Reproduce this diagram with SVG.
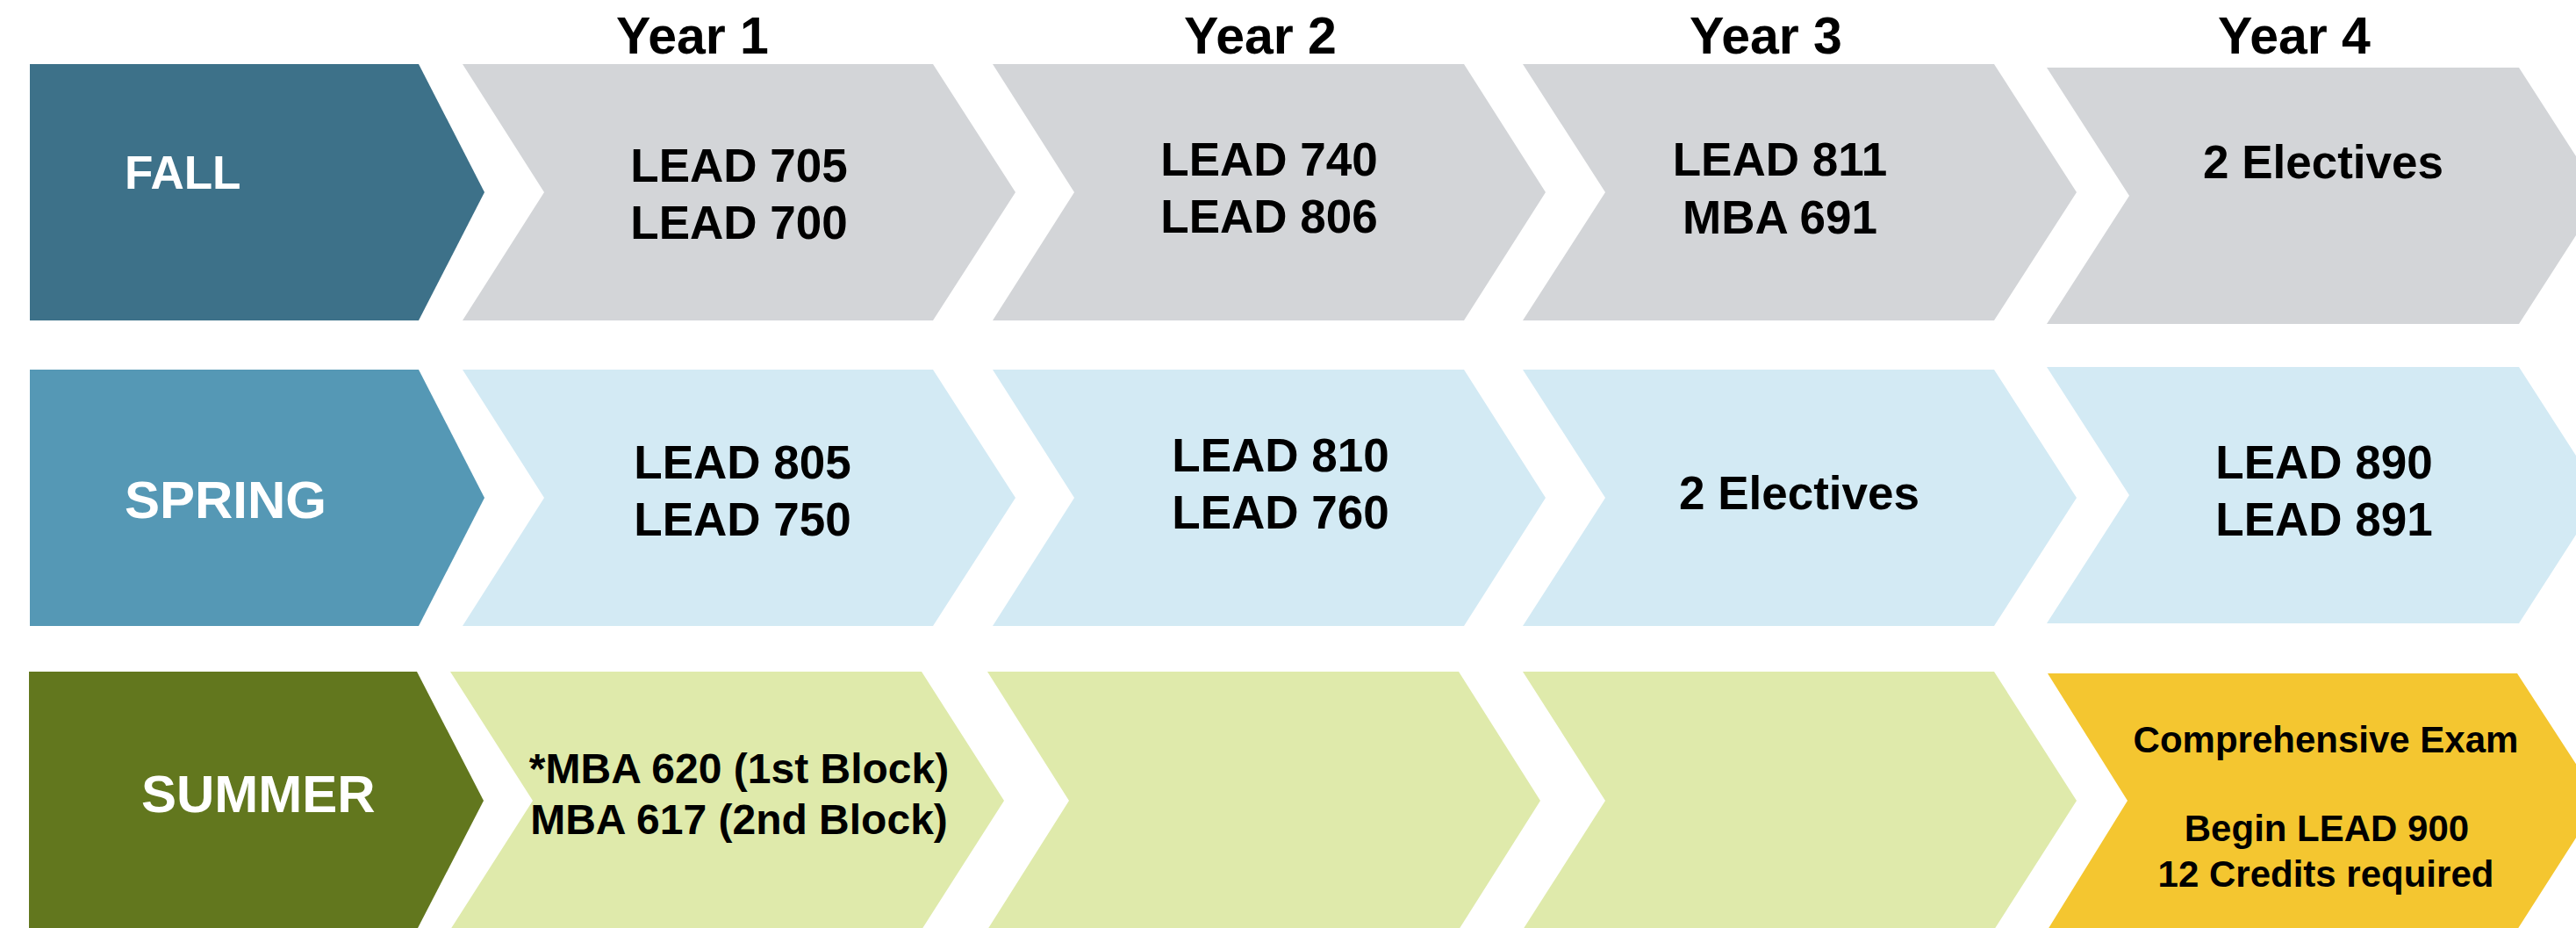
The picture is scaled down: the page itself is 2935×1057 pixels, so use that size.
<svg xmlns="http://www.w3.org/2000/svg" width="2935" height="1057" viewBox="0 0 2935 1057">
<style>
text{font-family:"Liberation Sans",Arial,sans-serif;font-weight:bold}
.yr{font-size:59px;fill:#000;text-anchor:middle}
.lbl{fill:#fff}
.c{font-size:53px;fill:#000;text-anchor:middle}
.s{font-size:48px;fill:#000;text-anchor:middle}
.e{font-size:42px;fill:#000;text-anchor:middle}
.fall{fill:#3D7189}
.spring{fill:#5598B5}
.summer{fill:#62771E}
.gray{fill:#D3D5D8}
.blue{fill:#D3EAF4}
.green{fill:#DFEAAB}
.yellow{fill:#F4C630}
</style>
<rect width="2935" height="1057" fill="#fff"/>
<g id="headers">
<text class="yr" x="789" y="61">Year 1</text>
<text class="yr" x="1436" y="61">Year 2</text>
<text class="yr" x="2012" y="61">Year 3</text>
<text class="yr" x="2614" y="61">Year 4</text>
</g>
<g id="fall-label"><polygon class="fall" points="34,73 477,73 552,219 477,365 34,365"/><text class="lbl" x="142" y="215" font-size="53">FALL</text></g>
<g id="fall-y1"><polygon class="gray" points="527,73 1063,73 1157,219 1063,365 527,365 620,219"/><text class="c" x="842" y="207">LEAD 705</text><text class="c" x="842" y="272">LEAD 700</text></g>
<g id="fall-y2"><polygon class="gray" points="1131,73 1668,73 1761,219 1668,365 1131,365 1224,219"/><text class="c" x="1446" y="200">LEAD 740</text><text class="c" x="1446" y="265">LEAD 806</text></g>
<g id="fall-y3"><polygon class="gray" points="1735,73 2272,73 2366,219 2272,365 1735,365 1829,219"/><text class="c" x="2028" y="200">LEAD 811</text><text class="c" x="2028" y="266">MBA 691</text></g>
<g id="fall-y4"><polygon class="gray" points="2332,77 2870,77 2964,223 2870,369 2332,369 2426,223"/><text class="c" x="2647" y="203">2 Electives</text></g>
<g id="spring-label"><polygon class="spring" points="34,421 477,421 552,567 477,713 34,713"/><text class="lbl" x="142" y="590" font-size="60">SPRING</text></g>
<g id="spring-y1"><polygon class="blue" points="527,421 1063,421 1157,567 1063,713 527,713 620,567"/><text class="c" x="846" y="545">LEAD 805</text><text class="c" x="846" y="610">LEAD 750</text></g>
<g id="spring-y2"><polygon class="blue" points="1131,421 1668,421 1761,567 1668,713 1131,713 1224,567"/><text class="c" x="1459" y="537">LEAD 810</text><text class="c" x="1459" y="602">LEAD 760</text></g>
<g id="spring-y3"><polygon class="blue" points="1735,421 2272,421 2366,567 2272,713 1735,713 1829,567"/><text class="c" x="2050" y="580">2 Electives</text></g>
<g id="spring-y4"><polygon class="blue" points="2332,418 2870,418 2964,564 2870,710 2332,710 2426,564"/><text class="c" x="2648" y="545">LEAD 890</text><text class="c" x="2648" y="610">LEAD 891</text></g>
<g id="summer-label"><polygon class="summer" points="33,765 475,765 551,912 475,1059 33,1059"/><text class="lbl" x="161" y="925" font-size="60">SUMMER</text></g>
<g id="summer-y1"><polygon class="green" points="513,765 1050,765 1144,912 1050,1059 513,1059 607,912"/><text class="s" x="842" y="892">*MBA 620 (1st Block)</text><text class="s" x="842" y="950">MBA 617 (2nd Block)</text></g>
<g id="summer-y2"><polygon class="green" points="1125,765 1662,765 1755,912 1662,1059 1125,1059 1218,912"/></g>
<g id="summer-y3"><polygon class="green" points="1735,765 2272,765 2366,912 2272,1059 1735,1059 1829,912"/></g>
<g id="summer-y4"><polygon class="yellow" points="2333,767 2868,767 2962,912 2868,1059 2333,1059 2424,912"/><text class="e" x="2650" y="857">Comprehensive Exam</text><text class="e" x="2651" y="958">Begin LEAD 900</text><text class="e" x="2650" y="1010">12 Credits required</text></g>
<g id="connectors"></g>
</svg>
